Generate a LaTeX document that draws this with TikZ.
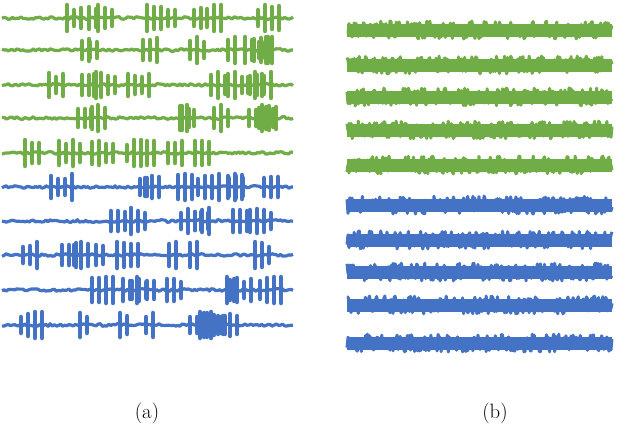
\documentclass[tikz,border=0pt]{standalone}
\usepackage{tikz}
\definecolor{sg}{RGB}{112,173,71}
\definecolor{sb}{RGB}{68,114,196}
\tikzset{sig/.style={line width=3.2pt,line join=round},
 burst/.style={line width=4.5pt,line cap=round}}
\begin{document}
\begin{tikzpicture}[x=1pt,y=-1pt]
\useasboundingbox (0,0) rectangle (640,431);
\pgfmathsetseed{7}
% left panel
\foreach \yy/\cc in {18/sg,50/sg,85/sg,118/sg,153/sg,187/sb,221/sb,255/sb,290/sb,325/sb}{
  \draw[sig,\cc] plot[domain=2:293,samples=140] (\x,{\yy+1.3*rand});
  \foreach \b in {1,...,8}{
    \pgfmathsetmacro\bx{random(5,270)}
    \pgfmathsetmacro\nk{random(1,3)}
    \foreach \k in {0,...,\nk}{
      \pgfmathsetmacro\hh{random(8,13)}
      \draw[burst,\cc] ({\bx+\k*7},{\yy-\hh}) -- ({\bx+\k*7},{\yy+\hh});
    }
  }
}
% right panel
\foreach \yy/\cc in {30/sg,65/sg,97/sg,130/sg,165/sg,205/sb,240/sb,272/sb,305/sb,343/sb}{
  \draw[line width=3pt,\cc,line join=round] plot[domain=347:612,samples=260] (\x,{\yy+9*rand});
  \draw[line width=13pt,\cc] (347,\yy) -- (612,\yy);
}
\node at (147,413) {\huge (a)};
\node at (495,413) {\huge (b)};
\end{tikzpicture}
\end{document}
